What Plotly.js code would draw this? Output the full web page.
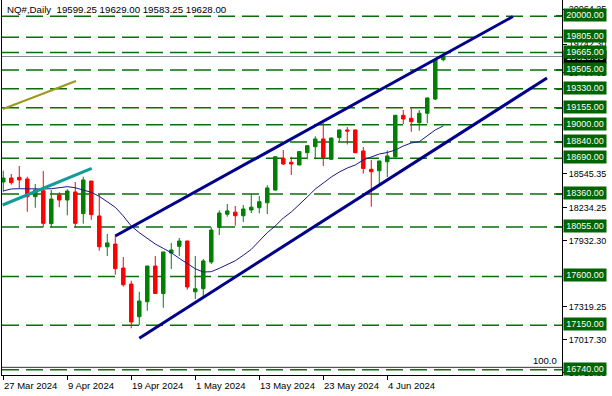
<!DOCTYPE html>
<html><head><meta charset="utf-8">
<script src="https://cdn.plot.ly/plotly-3.0.1.min.js"></script>
<style>html,body{margin:0;padding:0;background:#fff}#chart{width:612px;height:396px}</style>
</head><body><div id="chart"></div>
<script>
// Trading days (daily bars)
const dates = ['27 Mar','28 Mar','1 Apr','2 Apr','3 Apr','4 Apr','5 Apr','8 Apr','9 Apr','10 Apr',
  '11 Apr','12 Apr','15 Apr','16 Apr','17 Apr','18 Apr','19 Apr','22 Apr','23 Apr','24 Apr',
  '25 Apr','26 Apr','29 Apr','30 Apr','1 May','2 May','3 May','6 May','7 May','8 May',
  '9 May','10 May','13 May','14 May','15 May','16 May','17 May','20 May','21 May','22 May',
  '23 May','24 May','27 May','28 May','29 May','30 May','31 May','3 Jun','4 Jun','5 Jun',
  '6 Jun','7 Jun','10 Jun','11 Jun','12 Jun','13 Jun'];
const open  = [18471,18508,18514,18499,18336,18391,18087,18351,18305,18379,
  18179,18480,18158,17874,17899,17678,17530,17229,17367,17696,
  17443,17816,17878,17927,17459,17487,17733,18053,18174,18193,
  18160,18213,18234,18280,18397,18690,18653,18628,18741,18797,
  18868,18680,18881,18951,18951,18757,18588,18575,18658,18702,
  19086,19059,19018,19105,19236,19599.25];
const high  = [18575,18545,18619,18520,18453,18573,18397,18376,18404,18471,
  18520,18482,18360,17992,17973,17779,17561,17459,17700,17789,
  17826,17909,17955,17930,17789,17761,18053,18210,18268,18250,
  18259,18359,18342,18441,18710,18766,18704,18755,18808,18893,
  19015,18880,18955,18978,18955,18794,18674,18668,18762,19090,
  19135,19151,19135,19252,19600,19629.00];
const low   = [18382,18446,18413,18197,18234,18053,18053,18238,18164,18053,
  18087,18123,17838,17789,17616,17506,17122,17152,17284,17440,
  17312,17669,17789,17478,17392,17408,17715,17982,18151,18068,
  18102,18185,18182,18176,18391,18628,18536,18625,18680,18680,
  18619,18677,18837,18817,18736,18549,18243,18443,18517,18698,
  19006,18935,18944,19012,19227,19583.25];
const close = [18508,18465,18490,18336,18397,18090,18314,18305,18388,18090,
  18490,18170,17874,17909,17672,17524,17180,17374,17696,17443,
  17826,17844,17927,17503,17486,17743,18028,18185,18204,18160,
  18222,18239,18289,18416,18704,18637,18637,18751,18806,18868,
  18697,18877,18951,18941,18741,18596,18566,18665,18711,19086,
  19052,19027,19105,19246,19596,19628.00];
const ma = [18388,18407,18409,18407,18404,18407,18409,18418,18428,18418,
  18397,18376,18339,18289,18238,18158,18065,18004,17952,17899,
  17859,17819,17767,17721,17671,17641,17644,17675,17712,17745,
  17795,17850,17927,18004,18065,18139,18194,18259,18333,18406,
  18462,18517,18563,18600,18628,18674,18702,18729,18743,18766,
  18803,18831,18843,18895,18951,18988];

// Horizontal levels with green labels
const levels = [20000,19805,19665,19505,19330,19155,19000,18840,18690,18360,18055,17600,17150,16740];
// Plain price-scale labels
const axisTicks = [20064.25,19742.30,19480.35,18545.35,18234.25,17932.30,17319.25,17017.30,16715.35];
// Time-scale labels
const tickIdx = [0,8,16,24,32,40,48];
const tickLabels = ['27 Mar 2024','9 Apr 2024','19 Apr 2024','1 May 2024','13 May 2024','23 May 2024','4 Jun 2024'];

// Drawn trend lines (bar index, price)
const upperX = [14.0,63.7],  upperY = [17973,19997];
const lowerX = [17.0,67.96], lowerY = [17030,19430];
const oliveX = [-0.04,9.09], oliveY = [19144,19402];
const tealX  = [-0.08,11.05], tealY = [18259,18597];
const bid = 19628.00;
const fib100 = 16762;
const header = 'NQ#,Daily  19599.25 19629.00 19583.25 19628.00';

const xIdx = dates.map((d,i)=>i);
const yRange = [16691.3, 20149.4];
const FONT = 'Liberation Sans, Arial, sans-serif';
const GREEN = '#0a6e0a';
const NAVY = '#00008b';

const traces = [
  {type:'candlestick', x:xIdx, open:open, high:high, low:low, close:close, text:dates,
   increasing:{line:{color:'#008000',width:1}, fillcolor:'#008000'},
   decreasing:{line:{color:'#ff0000',width:1}, fillcolor:'#ff0000'},
   whiskerwidth:0, hoverinfo:'x+text'},
  {type:'scatter', mode:'lines', x:xIdx, y:ma, line:{color:'#1a1a80',width:1}, hoverinfo:'skip'},
  {type:'scatter', mode:'lines', x:upperX, y:upperY, line:{color:NAVY,width:3}, hoverinfo:'skip'},
  {type:'scatter', mode:'lines', x:lowerX, y:lowerY, line:{color:NAVY,width:3}, hoverinfo:'skip'},
  {type:'scatter', mode:'lines', x:oliveX, y:oliveY, line:{color:'#9a9a1e',width:2}, hoverinfo:'skip'},
  {type:'scatter', mode:'lines', x:tealX, y:tealY, line:{color:'#139a9a',width:3}, hoverinfo:'skip'},
  {type:'scatter', mode:'markers', x:[0], y:[levels[0]], yaxis:'y2', marker:{opacity:0}, hoverinfo:'skip'}
];

const shapes = levels.map(v=>({type:'line', xref:'paper', x0:0, x1:1, yref:'y', y0:v, y1:v, layer:'below',
  line:{color:GREEN, width:1.5, dash:'17px,7px'}}));
shapes.push({type:'line', xref:'paper', x0:0, x1:1, yref:'y', y0:bid, y1:bid, layer:'below', line:{color:'#778899', width:1}});
shapes.push({type:'line', xref:'paper', x0:0, x1:1, yref:'y', y0:fib100, y1:fib100, layer:'below', line:{color:'#333333', width:1}});

const annotations = [];
annotations.push({xref:'paper', yref:'paper', x:0, y:1, xanchor:'left', yanchor:'top', xshift:3, yshift:-2,
  text:header, showarrow:false, font:{family:FONT, size:9.7, color:'#000'}});
tickIdx.forEach((t,k)=>annotations.push({xref:'x', yref:'paper', x:t, y:0, xanchor:'left', yanchor:'top', xshift:-1, yshift:-3,
  text:tickLabels[k], showarrow:false, font:{family:FONT, size:9.5, color:'#000'}}));
annotations.push({xref:'paper', yref:'y', x:1, y:fib100, xanchor:'right', yanchor:'bottom', xshift:-3, yshift:-1,
  text:'100.0', showarrow:false, font:{family:FONT, size:9.5, color:'#000'}});
annotations.push({xref:'paper', yref:'y', x:1, y:bid, xanchor:'left', yanchor:'middle', xshift:1,
  text:bid.toFixed(2), showarrow:false, bgcolor:'#000', width:40, height:10, borderpad:1,
  font:{family:FONT, size:9, color:'#fff'}});
levels.forEach(v=>annotations.push({xref:'paper', yref:'y', x:1, y:v, xanchor:'left', yanchor:'middle', xshift:1, yshift:1,
  text:v.toFixed(2), showarrow:false, bgcolor:'#006400', width:40, height:10, borderpad:1,
  font:{family:FONT, size:9, color:'#fff'}}));

const layout = {
  width:612, height:396, margin:{l:2, r:50, t:0, b:21},
  paper_bgcolor:'#fff', plot_bgcolor:'#fff', showlegend:false, boxgap:0.38,
  xaxis:{range:[-0.16,69.84], rangeslider:{visible:false}, showgrid:false, zeroline:false,
    showline:true, linecolor:'#000', linewidth:1, ticks:'outside', ticklen:4, tickcolor:'#000',
    tickmode:'array', tickvals:tickIdx, showticklabels:false, fixedrange:true},
  yaxis:{side:'right', range:yRange, showgrid:false, zeroline:false, showline:true, mirror:true,
    linecolor:'#000', linewidth:1, ticks:'outside', ticklen:4, tickcolor:'#000',
    tickmode:'array', tickvals:axisTicks, ticktext:axisTicks.map(v=>v.toFixed(2)),
    tickfont:{family:FONT, size:9, color:'#000'}, fixedrange:true},
  yaxis2:{overlaying:'y', side:'right', range:yRange, showgrid:false, zeroline:false, showline:false,
    ticks:'inside', ticklen:6, tickcolor:GREEN, tickwidth:1.5, tickmode:'array', tickvals:levels, showticklabels:false, fixedrange:true},
  shapes:shapes, annotations:annotations
};

Plotly.newPlot('chart', traces, layout, {displayModeBar:false, staticPlot:true});
</script>
</body></html>
